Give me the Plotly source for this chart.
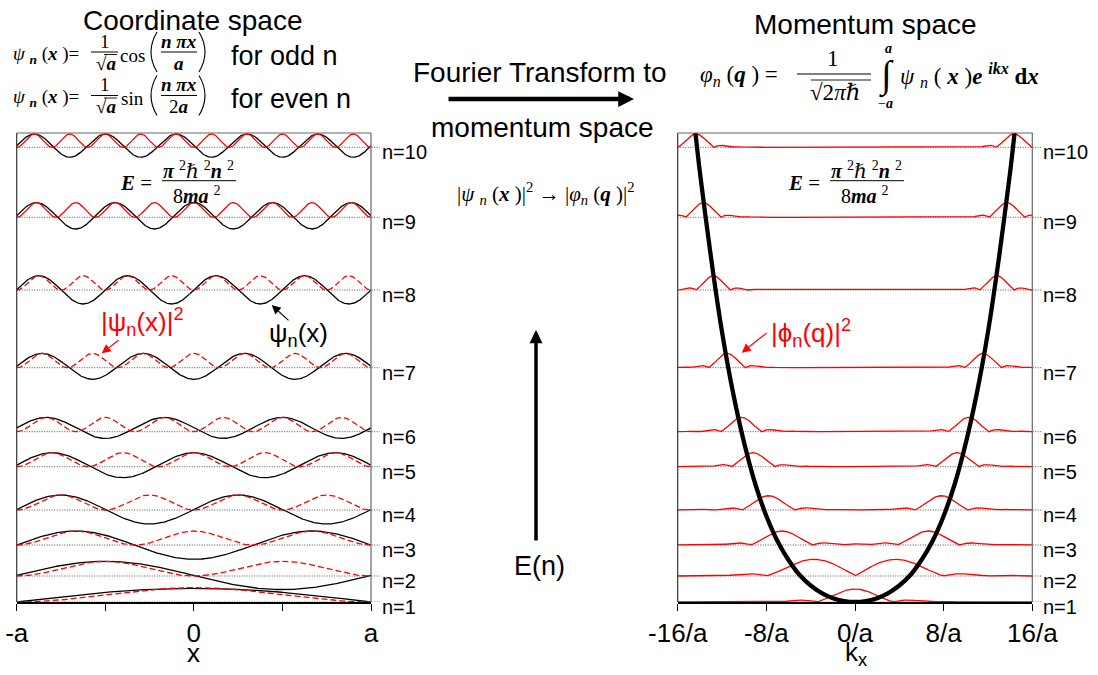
import numpy as np
import plotly.graph_objects as go

# ---------------- data ----------------
n_levels = [1, 2, 3, 4, 5, 6, 7, 8, 9, 10]
level_E = [0, 26, 57, 92, 135.3, 170.3, 234.3, 312, 384.7, 454.7]   # energy level of each n (chart units)
E_range = [0, 469]

# coordinate space: psi_n(x) drawn about its level, |psi_n|^2 peak height
psi_offset = [0, 0.55, -0.15, 0.5, 1.5, 3.8, 1.35, 0.15, 1.5, 1.65]
psi_amp = [13.7, 14.15, 14.15, 14.5, 12.5, 10.5, 12.95, 14.15, 13.2, 11.65]
prob_peak = [14.4, 14.7, 14.0, 15.0, 14.0, 14.3, 14.3, 14.3, 14.7, 13.3]
prob_dashed = [True, True, True, True, True, True, True, True, False, False]

# momentum space: |phi_n(q)|^2 lobes
phi_peak_k = [0, 4.0, 6.6, 7.8, 9.2, 10.25, 11.55, 12.8, 13.7, 14.35]
phi_halfwidth = [3.45, 4.0, 2.8, 2.4, 1.95, 1.85, 1.65, 1.55, 1.6, 1.6]
phi_height = [13.0, 16.7, 14.0, 14.3, 14.0, 14.3, 14.3, 14.3, 14.7, 13.3]

# dispersion curve E(k)
parab_k = [-14.4, -14, -13, -12, -11, -10, -9, -8, -7, -6, -5, -4, -3, -2, -1, 0,
           1, 2, 3, 4, 5, 6, 7, 8, 9, 10, 11, 12, 13, 14, 14.4]
parab_E = [469, 430, 345, 270, 209, 159, 118, 86, 61, 42, 27, 16.5, 8.9, 3.8, 1.0, 0,
           1.0, 3.8, 8.9, 16.5, 27, 42, 61, 86, 118, 159, 209, 270, 345, 430, 469]

x_tickvals = [-1, -0.5, 0, 0.5, 1]
x_ticktext = ['-a', '', '0', '', 'a']
k_tickvals = [-16, -8, 0, 8, 16]
k_ticktext = ['-16/a', '-8/a', '0/a', '8/a', '16/a']

# ---------------- figure ----------------
W, H = 1098, 675
SANS = "Liberation Sans, Arial, Helvetica, sans-serif"
SERIF = "Liberation Serif, Times New Roman, DejaVu Serif, serif"
RED = "#ff0000"


def P(x):
    return x / W


def Q(y):
    return 1 - y / H


fig = go.Figure()

# left panel curves
xs = np.linspace(-1, 1, 801)
for i, n in enumerate(n_levels):
    s = np.sin(n * np.pi * (xs + 1) / 2)
    base = level_E[i]
    psi = base + psi_offset[i] + psi_amp[i] * s
    prob = base + prob_peak[i] * s ** 2
    fig.add_trace(go.Scatter(x=xs, y=psi, mode='lines', line=dict(color='black', width=1.3),
                             xaxis='x', yaxis='y', hoverinfo='skip'))
    fig.add_trace(go.Scatter(x=xs, y=prob, mode='lines',
                             line=dict(color=RED, width=1.3, dash='6px,3px' if prob_dashed[i] else 'solid'),
                             xaxis='x', yaxis='y', hoverinfo='skip'))


def lobe(d, w):
    u = d / w
    return np.sinc(u) * np.exp(-u ** 2 / 5.0)


# right panel curves
ks = np.linspace(-16, 16, 1601)
for i, n in enumerate(n_levels):
    kp, w = phi_peak_k[i], phi_halfwidth[i]
    sign = 1 if n % 2 == 1 else -1
    amp = np.abs(lobe(ks - kp, w) + sign * lobe(ks + kp, w))
    f = amp / amp.max()
    fig.add_trace(go.Scatter(x=ks, y=level_E[i] + phi_height[i] * f, mode='lines',
                             line=dict(color=RED, width=1.3), xaxis='x2', yaxis='y2', hoverinfo='skip'))

fig.add_trace(go.Scatter(x=parab_k, y=parab_E, mode='lines',
                         line=dict(color='black', width=4.3, shape='spline', smoothing=0.8),
                         xaxis='x2', yaxis='y2', hoverinfo='skip'))

ydom = [Q(602), Q(133)]
axis_common = dict(ticks='outside', ticklen=7, tickwidth=1, tickcolor='black', showline=True, linecolor='black',
                   linewidth=1.5, showgrid=False, zeroline=False, layer='below traces', automargin=False,
                   tickfont=dict(size=26, family=SANS, color='black'))
fig.update_layout(
    width=W, height=H, margin=dict(l=0, r=0, t=0, b=0, autoexpand=False),
    paper_bgcolor='white', plot_bgcolor='white', showlegend=False,
    xaxis=dict(domain=[P(16.7), P(371)], range=[-1, 1], tickvals=x_tickvals, ticktext=x_ticktext,
               anchor='y', **axis_common),
    yaxis=dict(domain=ydom, range=E_range, visible=False, anchor='x', automargin=False),
    xaxis2=dict(domain=[P(677.7), P(1032.3)], range=[-16, 16], tickvals=k_tickvals, ticktext=k_ticktext,
                anchor='y2', **axis_common),
    yaxis2=dict(domain=ydom, range=E_range, visible=False, anchor='x2', automargin=False),
)

shapes = []
annotations = []
for xr, yr in (('x', 'y'), ('x2', 'y2')):
    for (x0, y0, x1, y1, col) in ((0, 0, 0, 1, '#333333'), (0, 1, 1, 1, '#666666'), (1, 0, 1, 1, '#666666')):
        shapes.append(dict(type='line', xref=xr + ' domain', yref=yr + ' domain', x0=x0, x1=x1, y0=y0, y1=y1,
                           line=dict(color=col, width=1.2), layer='above'))
    for i, n in enumerate(n_levels):
        shapes.append(dict(type='line', xref=xr + ' domain', yref=yr, x0=0, x1=1.025, y0=level_E[i], y1=level_E[i],
                           line=dict(color='#555555', width=1, dash='1px,1.5px'), layer='below'))
        annotations.append(dict(xref=xr + ' domain', yref=yr, x=1, y=level_E[i], xshift=9, yshift=-5,
                                xanchor='left', yanchor='middle', text='n=%d' % n, showarrow=False,
                                font=dict(size=20, family=SANS, color='black')))


def txt(x, y, text, size, family=SANS, color='black', xanchor='center', yanchor='middle'):
    annotations.append(dict(xref='paper', yref='paper', x=P(x), y=Q(y), text=text, showarrow=False,
                            xanchor=xanchor, yanchor=yanchor, font=dict(size=size, family=family, color=color)))


def hline(x0, x1, y, width=1.0, color='black'):
    shapes.append(dict(type='line', xref='paper', yref='paper', x0=P(x0), x1=P(x1), y0=Q(y), y1=Q(y),
                       line=dict(color=color, width=width)))


def paren(x_end, x_mid, y0, y1, width=1.0):
    ym = (y0 + y1) / 2
    path = 'M %.5f,%.5f Q %.5f,%.5f %.5f,%.5f' % (P(x_end), Q(y0), P(x_mid), Q(ym), P(x_end), Q(y1))
    shapes.append(dict(type='path', xref='paper', yref='paper', path=path, line=dict(color='black', width=width)))


def arrow(xt, yt, xs_, ys_, width, color, size):
    annotations.append(dict(xref='paper', yref='paper', x=P(xt), y=Q(yt), ax=xs_ - xt, ay=ys_ - yt,
                            axref='pixel', ayref='pixel', text='', showarrow=True, arrowhead=2,
                            arrowsize=size, arrowwidth=width, arrowcolor=color, standoff=0, startstandoff=0))


# titles and captions
txt(192, 21, 'Coordinate space', 28)
txt(865, 24, 'Momentum space', 28)
txt(229, 56, 'for odd n', 27, xanchor='left')
txt(229, 99, 'for even n', 27, xanchor='left')
txt(540, 73, 'Fourier Transform to', 28)
txt(542, 128, 'momentum space', 28)
txt(539, 566, 'E(n)', 27)
txt(193, 653, 'x', 26)
txt(856, 653, 'k<sub>x</sub>', 26)

# annotations on curves
txt(99, 322, '|ψ<sub>n</sub>(x)|<sup>2</sup>', 26, color=RED, xanchor='left')
arrow(101.7, 353.3, 120, 339, 1.2, RED, 1.5)
txt(267, 335, 'ψ<sub>n</sub>(x)', 26, xanchor='left')
arrow(271.7, 305, 290, 321.7, 1.2, 'black', 1.5)
txt(769, 333, '|ϕ<sub>n</sub>(q)|<sup>2</sup>', 26, color=RED, xanchor='left')
arrow(741.7, 352.7, 768.3, 331.7, 1.2, RED, 1.5)

# big arrows
arrow(634, 99, 447, 99, 4.5, 'black', 0.7)
arrow(536, 330, 536, 542, 3.5, 'black', 0.75)

# wavefunction formulas (coordinate space)
for dy, trig, den in ((0, 'cos', '<b><i>a</i></b>'), (43.5, 'sin', '2<b><i>a</i></b>')):
    ly = 52 + dy
    txt(81, ly + 3, '<i>ψ</i> <sub><b><i>n</i></b></sub> (<b><i>x</i></b> )=', 19, SERIF, xanchor='right')
    hline(91, 118, ly, 1.0)
    txt(105, ly - 11, '1', 19, SERIF)
    txt(106, ly + 11, '√<b><i>a</i></b>', 19, SERIF)
    hline(104, 117, ly + 2.5, 0.9)
    txt(132, ly + 3, trig, 19, SERIF)
    paren(157, 145, ly - 20, ly + 20, 1.1)
    paren(199, 211, ly - 20, ly + 20, 1.1)
    hline(161, 197, ly, 1.0)
    txt(179, ly - 11, '<b><i>n πx</i></b>', 19, SERIF)
    txt(179, ly + 11, den, 19, SERIF)

# Fourier transform formula
txt(739, 76, '<i>φ</i><sub><i>n</i></sub> (<b><i>q</i></b> ) =', 23, SERIF)
hline(797, 871, 74, 1.0)
txt(833, 59, '1', 23, SERIF)
txt(835, 92, '√2<i>π</i>ℏ', 23, SERIF)
hline(811, 871, 80, 0.9)
txt(886, 75, '∫', 38, SERIF)
txt(888, 48, '<b><i>a</i></b>', 14, SERIF)
txt(885, 103, '−<b><i>a</i></b>', 14, SERIF)
txt(969, 76, '<i>ψ</i> <sub><i>n</i></sub> ( <b><i>x</i></b> )<b><i>e</i></b> <sup><b><i>ikx</i></b></sup> <b>d<i>x</i></b>', 23, SERIF)

# mapping formula
txt(546, 193, '|<i>ψ</i> <sub><i>n</i></sub> (<b><i>x</i></b> )|<sup>2</sup> → |<i>φ</i><sub><i>n</i></sub> (<b><i>q</i></b> )|<sup>2</sup>', 21, SERIF)

# energy formula (both panels)
for x0 in (120, 788):
    txt(x0 + 16, 183, '<b><i>E</i></b> =', 21, SERIF)
    hline(x0 + 42, x0 + 116, 180.7, 1.0)
    txt(x0 + 78, 170, '<b><i>π</i></b> <sup>2</sup>ℏ <sup>2</sup><b><i>n</i></b> <sup>2</sup>', 20, SERIF)
    txt(x0 + 77, 195, '8<b><i>ma</i></b> <sup>2</sup>', 20, SERIF)

fig.update_layout(shapes=shapes, annotations=annotations)
fig.write_html('out.html')
